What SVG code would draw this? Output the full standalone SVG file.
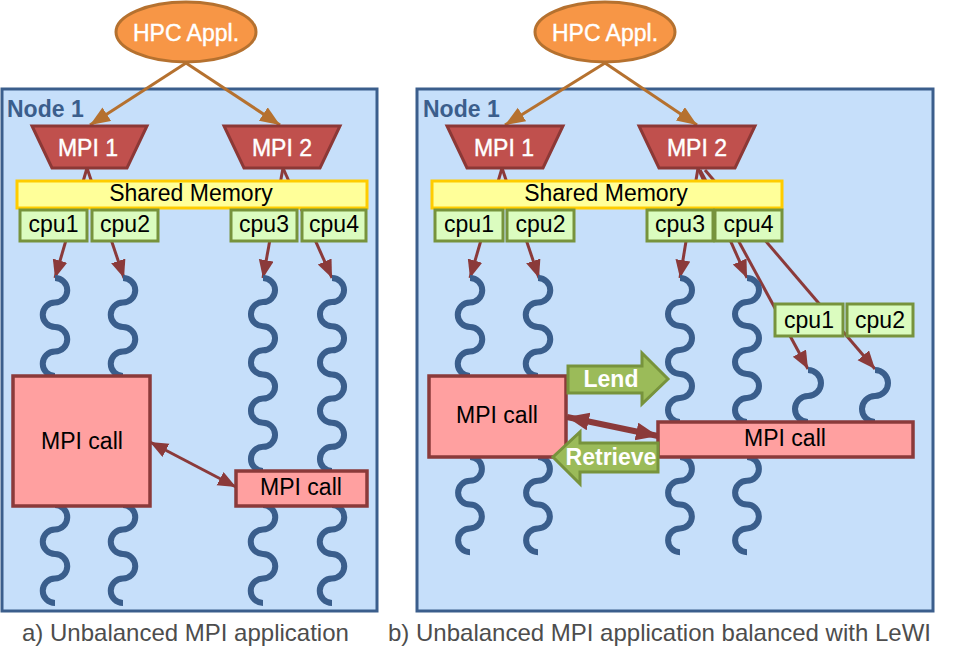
<svg xmlns="http://www.w3.org/2000/svg" width="954" height="652" viewBox="0 0 954 652">
<style>
text{font-family:"Liberation Sans",Arial,sans-serif;font-size:23px}
.panel{fill:#c6dffa;stroke:#3b5e8c;stroke-width:3}
.hpc{fill:#f79646;stroke:#b5712f;stroke-width:3}
.mpi{fill:#c0504d;stroke:#8c3836;stroke-width:3}
.shm{fill:#ffff99;stroke:#ffcc00;stroke-width:3}
.cpu{fill:#dbfcbf;stroke:#77933c;stroke-width:3}
.call{fill:#ffa0a0;stroke:#8b3a3a;stroke-width:3.5}
.grn{fill:#9bbb59;stroke:#77933c;stroke-width:3}
.thr{fill:none;stroke:#3a5e8c;stroke-width:6}
.oa{stroke:#b5712f;stroke-width:3;fill:none;marker-end:url(#ah-o)}
.ra{stroke:#8b3a3a;stroke-width:3;fill:none;marker-end:url(#ah-r)}
.da{stroke:#8b3a3a;stroke-width:3;fill:none;marker-end:url(#ah-r);marker-start:url(#ah-r)}
.db{stroke:#8b3a3a;stroke-width:6;fill:none;marker-end:url(#ah-b);marker-start:url(#ah-b)}
.w{fill:#fff;text-anchor:middle;stroke:#fff;stroke-width:0.4}
.wb{fill:#fff;text-anchor:middle;font-weight:bold}
.k{fill:#000;text-anchor:middle}
.node{fill:#3b5e8c;font-weight:bold}
.cap{fill:#4d4d4d;font-size:24px}
</style>
<defs>
<marker id="ah-o" markerUnits="userSpaceOnUse" markerWidth="22" markerHeight="18" refX="20" refY="8" orient="auto"><path d="M0,0 L20,8 L0,16 z" fill="#b5712f"/></marker>
<marker id="ah-r" markerUnits="userSpaceOnUse" markerWidth="20" markerHeight="16" refX="18" refY="7.5" orient="auto-start-reverse"><path d="M0,0 L18,7.5 L0,15 z" fill="#8b3a3a"/></marker>
<marker id="ah-b" markerUnits="userSpaceOnUse" markerWidth="26" markerHeight="20" refX="22" refY="9" orient="auto-start-reverse"><path d="M0,0 L22,9 L0,18 z" fill="#8b3a3a"/></marker>
</defs>

<g id="panel-a"><rect class="panel" x="2" y="89" width="375" height="522"/><text class="node" x="7" y="117">Node 1</text></g>
<g id="panel-b"><rect class="panel" x="417" y="89" width="516" height="522"/><text class="node" x="423" y="117">Node 1</text></g>

<g id="connectors">
<line class="oa" x1="186" y1="63" x2="90" y2="125"/>
<line class="oa" x1="186" y1="63" x2="280" y2="125"/>
<line class="oa" x1="605" y1="63" x2="505" y2="125"/>
<line class="oa" x1="605" y1="63" x2="697" y2="125"/>
<line class="ra" x1="87" y1="168" x2="55" y2="278"/>
<line class="ra" x1="87" y1="168" x2="124" y2="278"/>
<line class="ra" x1="283" y1="168" x2="263" y2="278"/>
<line class="ra" x1="283" y1="168" x2="332" y2="278"/>
<line class="ra" x1="502" y1="168" x2="470" y2="278"/>
<line class="ra" x1="502" y1="168" x2="539" y2="278"/>
<line class="ra" x1="698" y1="168" x2="680" y2="278"/>
<line class="ra" x1="698" y1="168" x2="747" y2="278"/>
<line class="ra" x1="700" y1="170" x2="808" y2="369"/>
<line class="ra" x1="705" y1="170" x2="875" y2="369"/>
<line class="da" x1="150" y1="442" x2="236" y2="487"/>
<line class="db" x1="567" y1="417" x2="658" y2="436"/>
</g>

<g id="threads">
<path class="thr" d="M55 278a12.25 12.25 0 0 1 0 24.5a12.25 12.25 0 0 0 0 24.5a12.25 12.25 0 0 1 0 24.5a12.25 12.25 0 0 0 0 24.5"/>
<path class="thr" d="M123 278a12.25 12.25 0 0 1 0 24.5a12.25 12.25 0 0 0 0 24.5a12.25 12.25 0 0 1 0 24.5a12.25 12.25 0 0 0 0 24.5"/>
<path class="thr" d="M55 505a12.25 12.25 0 0 1 0 24.5a12.25 12.25 0 0 0 0 24.5a12.25 12.25 0 0 1 0 24.5a12.25 12.25 0 0 0 0 24.5"/>
<path class="thr" d="M123 505a12.25 12.25 0 0 1 0 24.5a12.25 12.25 0 0 0 0 24.5a12.25 12.25 0 0 1 0 24.5a12.25 12.25 0 0 0 0 24.5"/>
<path class="thr" d="M263 278a12.06 12.06 0 0 1 0 24.12a12.06 12.06 0 0 0 0 24.12a12.06 12.06 0 0 1 0 24.12a12.06 12.06 0 0 0 0 24.12a12.06 12.06 0 0 1 0 24.12a12.06 12.06 0 0 0 0 24.12a12.06 12.06 0 0 1 0 24.12a12.06 12.06 0 0 0 0 24.12"/>
<path class="thr" d="M332 278a12.06 12.06 0 0 1 0 24.12a12.06 12.06 0 0 0 0 24.12a12.06 12.06 0 0 1 0 24.12a12.06 12.06 0 0 0 0 24.12a12.06 12.06 0 0 1 0 24.12a12.06 12.06 0 0 0 0 24.12a12.06 12.06 0 0 1 0 24.12a12.06 12.06 0 0 0 0 24.12"/>
<path class="thr" d="M263 505a12.25 12.25 0 0 1 0 24.5a12.25 12.25 0 0 0 0 24.5a12.25 12.25 0 0 1 0 24.5a12.25 12.25 0 0 0 0 24.5"/>
<path class="thr" d="M332 505a12.25 12.25 0 0 1 0 24.5a12.25 12.25 0 0 0 0 24.5a12.25 12.25 0 0 1 0 24.5a12.25 12.25 0 0 0 0 24.5"/>
<path class="thr" d="M470 278a12.25 12.25 0 0 1 0 24.5a12.25 12.25 0 0 0 0 24.5a12.25 12.25 0 0 1 0 24.5a12.25 12.25 0 0 0 0 24.5"/>
<path class="thr" d="M538 278a12.25 12.25 0 0 1 0 24.5a12.25 12.25 0 0 0 0 24.5a12.25 12.25 0 0 1 0 24.5a12.25 12.25 0 0 0 0 24.5"/>
<path class="thr" d="M470 457a11.9 11.9 0 0 1 0 23.8a11.9 11.9 0 0 0 0 23.8a11.9 11.9 0 0 1 0 23.8a11.9 11.9 0 0 0 0 23.8"/>
<path class="thr" d="M538 457a11.9 11.9 0 0 1 0 23.8a11.9 11.9 0 0 0 0 23.8a11.9 11.9 0 0 1 0 23.8a11.9 11.9 0 0 0 0 23.8"/>
<path class="thr" d="M680 278a12 12 0 0 1 0 24a12 12 0 0 0 0 24a12 12 0 0 1 0 24a12 12 0 0 0 0 24a12 12 0 0 1 0 24a12 12 0 0 0 0 24"/>
<path class="thr" d="M747 278a12 12 0 0 1 0 24a12 12 0 0 0 0 24a12 12 0 0 1 0 24a12 12 0 0 0 0 24a12 12 0 0 1 0 24a12 12 0 0 0 0 24"/>
<path class="thr" d="M680 457a11.9 11.9 0 0 1 0 23.8a11.9 11.9 0 0 0 0 23.8a11.9 11.9 0 0 1 0 23.8a11.9 11.9 0 0 0 0 23.8"/>
<path class="thr" d="M747 457a11.9 11.9 0 0 1 0 23.8a11.9 11.9 0 0 0 0 23.8a11.9 11.9 0 0 1 0 23.8a11.9 11.9 0 0 0 0 23.8"/>
<path class="thr" d="M808 370a13 13 0 0 1 0 26a13 13 0 0 0 0 26"/>
<path class="thr" d="M875 370a13 13 0 0 1 0 26a13 13 0 0 0 0 26"/>
</g>

<g id="hpc-a"><ellipse class="hpc" cx="186" cy="32" rx="70" ry="30"/><text class="w" x="186" y="41" font-size="24">HPC Appl.</text></g>
<g id="hpc-b"><ellipse class="hpc" cx="605" cy="32" rx="70" ry="30"/><text class="w" x="605" y="41" font-size="24">HPC Appl.</text></g>

<g id="mpi1-a"><polygon class="mpi" points="32,126 147,126 127,168 52,168"/><text class="w" x="88" y="156">MPI 1</text></g>
<g id="mpi2-a"><polygon class="mpi" points="224,126 340,126 320,168 244,168"/><text class="w" x="282" y="156">MPI 2</text></g>
<g id="mpi1-b"><polygon class="mpi" points="447,126 563,126 543,168 467,168"/><text class="w" x="504" y="156">MPI 1</text></g>
<g id="mpi2-b"><polygon class="mpi" points="639,126 755,126 735,168 659,168"/><text class="w" x="697" y="156">MPI 2</text></g>

<g id="shm-a"><rect class="shm" x="17" y="181" width="350" height="27"/><text class="k" x="191" y="201">Shared Memory</text></g>
<g id="shm-b"><rect class="shm" x="432" y="181" width="350" height="27"/><text class="k" x="606" y="201">Shared Memory</text></g>

<g id="cpu1-a"><rect class="cpu" x="20" y="210" width="67" height="31"/><text class="k" x="53.5" y="232">cpu1</text></g>
<g id="cpu2-a"><rect class="cpu" x="92" y="210" width="66" height="31"/><text class="k" x="125" y="232">cpu2</text></g>
<g id="cpu3-a"><rect class="cpu" x="231" y="210" width="66" height="31"/><text class="k" x="264" y="232">cpu3</text></g>
<g id="cpu4-a"><rect class="cpu" x="302" y="210" width="64" height="31"/><text class="k" x="334" y="232">cpu4</text></g>
<g id="cpu1-b"><rect class="cpu" x="435" y="210" width="68" height="31"/><text class="k" x="469" y="232">cpu1</text></g>
<g id="cpu2-b"><rect class="cpu" x="507" y="210" width="67" height="31"/><text class="k" x="540.5" y="232">cpu2</text></g>
<g id="cpu3-b"><rect class="cpu" x="647" y="210" width="66" height="31"/><text class="k" x="680" y="232">cpu3</text></g>
<g id="cpu4-b"><rect class="cpu" x="715" y="210" width="67" height="31"/><text class="k" x="748.5" y="232">cpu4</text></g>
<g id="cpu1-x"><rect class="cpu" x="775" y="304" width="68" height="32"/><text class="k" x="809" y="328">cpu1</text></g>
<g id="cpu2-x"><rect class="cpu" x="847" y="304" width="66" height="32"/><text class="k" x="880" y="328">cpu2</text></g>

<g id="call-a1"><rect class="call" x="13" y="376" width="137" height="130"/><text class="k" x="82" y="449">MPI call</text></g>
<g id="call-a2"><rect class="call" x="236" y="471" width="131" height="35"/><text class="k" x="301" y="495">MPI call</text></g>
<g id="call-b1"><rect class="call" x="429" y="376" width="137" height="81"/><text class="k" x="497" y="423">MPI call</text></g>
<g id="call-b2"><rect class="call" x="658" y="422" width="255" height="35"/><text class="k" x="785" y="446">MPI call</text></g>

<g id="lend"><polygon class="grn" points="568,366 642,366 642,353 668,379 642,404 642,393 568,393"/><text class="wb" x="611" y="387">Lend</text></g>
<g id="retrieve"><polygon class="grn" points="658,443 580,443 580,432 553,457 580,484 580,472 658,472"/><text class="wb" x="611" y="465">Retrieve</text></g>

<text class="cap" x="22" y="641">a) Unbalanced MPI application</text>
<text class="cap" x="388" y="641">b) Unbalanced MPI application balanced with LeWI</text>
</svg>
